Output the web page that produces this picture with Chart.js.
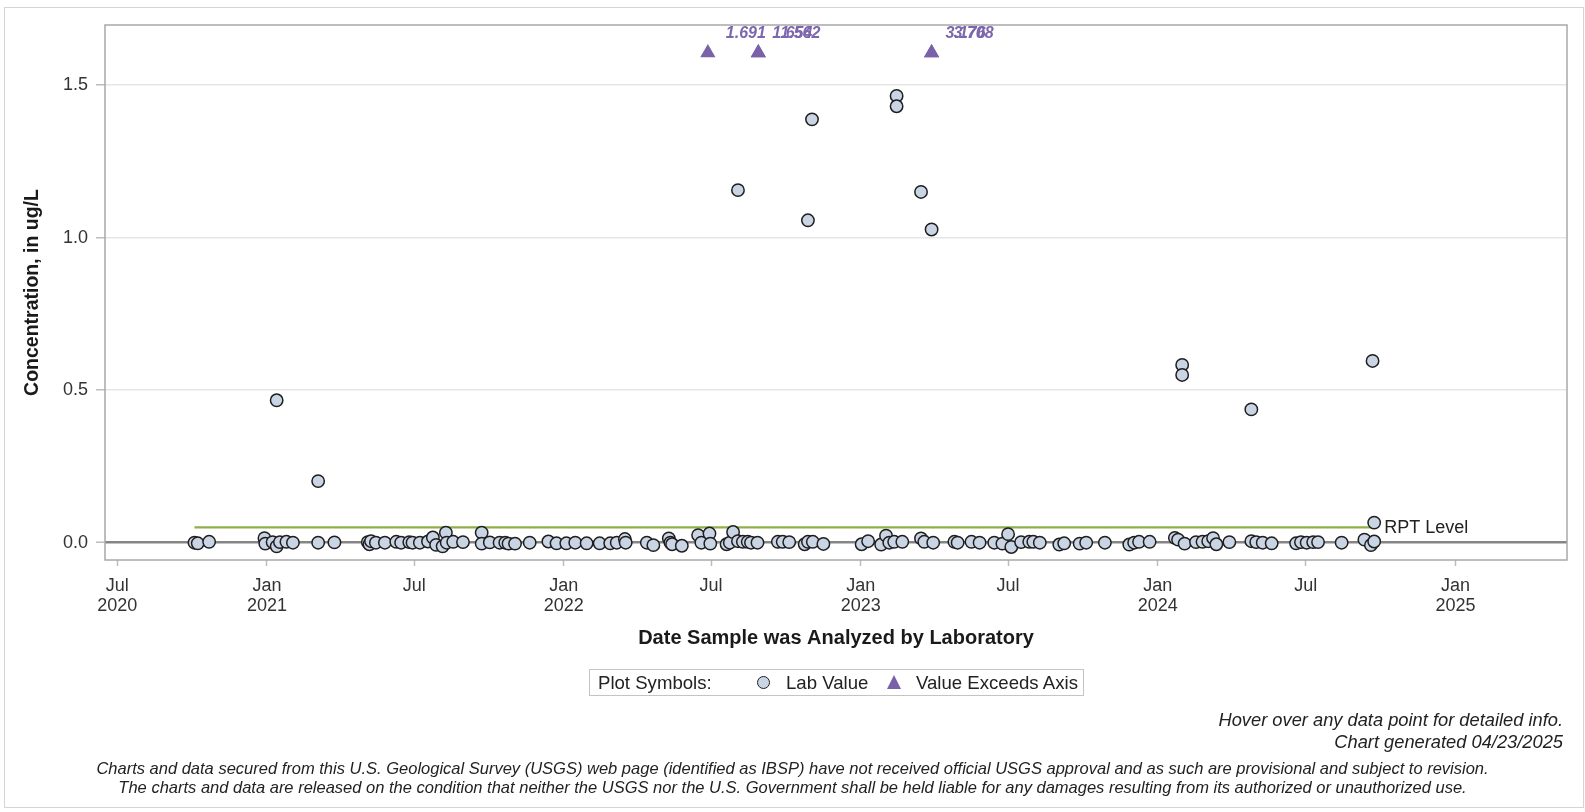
<!DOCTYPE html>
<html>
<head>
<meta charset="utf-8">
<script src="https://cdn.jsdelivr.net/npm/chart.js@4.4.1/dist/chart.umd.min.js"></script>
<style>
html,body{margin:0;padding:0;background:#fff;}
body{width:1585px;height:812px;position:relative;overflow:hidden;font-family:'Liberation Sans',Arial,sans-serif;color:#222;}
#outer{position:absolute;left:4px;top:7px;width:1580px;height:801px;border:1px solid #d4d4d4;box-sizing:border-box;}
#chart{position:absolute;left:0;top:0;}
#legend{position:absolute;left:589px;top:669px;width:495px;height:27px;border:1px solid #c4c4c4;box-sizing:border-box;font-size:18.6px;line-height:25px;}
#legend span{position:absolute;top:0;white-space:nowrap;}
#legend .circ{position:absolute;top:6px;width:11px;height:11px;border-radius:50%;background:#c9d4e4;border:1.4px solid #1e1e1e;}
#legend .tri{position:absolute;top:5px;width:0;height:0;border-left:7.5px solid transparent;border-right:7.5px solid transparent;border-bottom:14px solid #7a62a8;}
.note{position:absolute;right:22px;font-style:italic;font-size:18.3px;white-space:nowrap;}
.foot{position:absolute;left:0;width:1585px;text-align:center;font-style:italic;font-size:16.5px;white-space:nowrap;}
</style>
</head>
<body>
<div id="outer"></div>
<canvas id="chart" width="1585" height="812"></canvas>
<div id="legend">
  <span style="left:8px">Plot Symbols:</span>
  <div class="circ" style="left:167px"></div>
  <span style="left:196px">Lab Value</span>
  <div class="tri" style="left:297px"></div>
  <span style="left:326px">Value Exceeds Axis</span>
</div>
<div class="note" style="top:709px">Hover over any data point for detailed info.</div>
<div class="note" style="top:731px">Chart generated 04/23/2025</div>
<div class="foot" style="top:759px">Charts and data secured from this U.S. Geological Survey (USGS) web page (identified as IBSP) have not received official USGS approval and as such are provisional and subject to revision.</div>
<div class="foot" style="top:778px">The charts and data are released on the condition that neither the USGS nor the U.S. Government shall be held liable for any damages resulting from its authorized or unauthorized use.</div>
<script>
// ---------------- DATA ----------------
const labDates = [
 '2020-10-04','2020-10-08','2020-10-22','2020-12-29','2020-12-30','2021-01-08','2021-01-13','2021-01-13','2021-01-17','2021-01-25',
 '2021-02-02','2021-03-05','2021-03-05','2021-03-25','2021-05-05','2021-05-07','2021-05-09','2021-05-15','2021-05-26','2021-06-09',
 '2021-06-15','2021-06-25','2021-06-29','2021-07-08','2021-07-18','2021-07-24','2021-07-28','2021-08-05','2021-08-09','2021-08-10',
 '2021-08-18','2021-08-30','2021-09-22','2021-09-22','2021-10-02','2021-10-14','2021-10-21','2021-10-25','2021-11-02','2021-11-20',
 '2021-12-13','2021-12-23','2022-01-04','2022-01-15','2022-01-29','2022-02-14','2022-02-27','2022-03-07','2022-03-17','2022-03-18',
 '2022-04-13','2022-04-21','2022-05-10','2022-05-12','2022-05-14','2022-05-26','2022-06-15','2022-06-19','2022-06-29','2022-06-30',
 '2022-07-20','2022-07-24','2022-07-28','2022-08-03','2022-08-03','2022-08-09','2022-08-15','2022-08-19','2022-08-27','2022-09-21',
 '2022-09-27','2022-10-05','2022-10-24','2022-10-28','2022-10-28','2022-11-02','2022-11-03','2022-11-16','2023-01-02','2023-01-10',
 '2023-01-26','2023-02-01','2023-02-05','2023-02-11','2023-02-14','2023-02-14','2023-02-21','2023-03-16','2023-03-16','2023-03-20',
 '2023-03-29','2023-03-31','2023-04-26','2023-04-30','2023-05-17','2023-05-27','2023-06-14','2023-06-24','2023-07-01','2023-07-05',
 '2023-07-17','2023-07-27','2023-08-01','2023-08-09','2023-09-02','2023-09-08','2023-09-27','2023-10-05','2023-10-28','2023-11-27',
 '2023-12-03','2023-12-09','2023-12-22','2024-01-22','2024-01-26','2024-01-31','2024-01-31','2024-02-03','2024-02-17','2024-02-25',
 '2024-03-03','2024-03-09','2024-03-13','2024-03-29','2024-04-25','2024-04-25','2024-05-01','2024-05-09','2024-05-20','2024-06-19',
 '2024-06-25','2024-07-02','2024-07-10','2024-07-16','2024-08-14','2024-09-11','2024-09-19','2024-09-21','2024-09-23','2024-09-23'
];
const labValues = [
 0,-0.002,0.003,0.015,-0.003,0.002,-0.012,0.467,0.002,0.003,
 0,0,0.202,0.001,0.002,-0.005,0.005,0,0,0.003,
 0,0.002,0,0,0.004,0.017,-0.007,-0.012,0.033,0,
 0.003,0.002,0.033,-0.003,0.001,0,0,-0.003,-0.003,0,
 0.004,-0.002,-0.002,0,-0.002,-0.002,-0.002,0,0.012,0,
 0,-0.008,0.014,0,-0.005,-0.01,0.025,0,0.03,-0.003,
 -0.005,0,0.035,0.005,1.156,0.003,0.003,0,0,0.003,
 0.003,0.002,-0.005,0.003,1.057,1.388,0.003,-0.004,-0.005,0.005,
 -0.006,0.023,0,0.003,1.465,1.431,0.003,0.014,1.150,0.003,
 1.027,0,0.003,0,0.003,0,0,-0.003,0.028,-0.014,
 0.002,0.003,0.003,0,-0.006,-0.002,-0.003,0,0,-0.006,
 0,0.003,0.003,0.016,0.01,0.583,0.550,-0.003,0.002,0.003,
 0.005,0.015,-0.005,0.002,0.005,0.437,0.002,0,-0.002,-0.002,
 0.002,0,0.002,0.002,0,0.01,-0.008,0.596,0.066,0.004
];
const exceedDates  = ['2022-06-27','2022-08-28','2022-08-28','2023-03-29','2023-03-29'];
const exceedValues = [1.691, 1.654, 1.562, 3.176, 3.708];
const rptLevel = 0.05;
const xTickDates  = ['2020-07-01','2021-01-01','2021-07-01','2022-01-01','2022-07-01','2023-01-01','2023-07-01','2024-01-01','2024-07-01','2025-01-01'];
const xTickMonths = ['Jul','Jan','Jul','Jan','Jul','Jan','Jul','Jan','Jul','Jan'];
const xTickYears  = ['2020','2021','','2022','','2023','','2024','','2025'];
const yTickValues = [0, 0.5, 1.0, 1.5];
const yTickLabels = ['0.0','0.5','1.0','1.5'];

// ---------------- CONFIG ----------------
const FONT = "'Liberation Sans', Arial, sans-serif";
const X_MIN = '2020-06-16', X_MAX = '2025-05-18';
const Y_MIN = -0.0567, Y_MAX = 1.6974;
const EXCEED_PLOT_LEVEL = 1.606;

const toMs = s => { const p = s.split('-').map(Number); return Date.UTC(p[0], p[1]-1, p[2]); };
const labPoints = labDates.map((d,i) => ({x: toMs(d), y: labValues[i]}));
const exceedPoints = exceedDates.map(d => ({x: toMs(d), y: EXCEED_PLOT_LEVEL}));
const labMs = labDates.map(toMs);
const rptStart = Math.min(...labMs), rptEnd = Math.max(...labMs);
const rptPoints = [{x: rptStart, y: rptLevel}, {x: rptEnd, y: rptLevel}];

const decor = {
  id: 'decor',
  beforeDatasetsDraw(chart) {
    const {ctx, chartArea: a} = chart;
    ctx.save();
    ctx.strokeStyle = '#a8a8a8';
    ctx.lineWidth = 1.5;
    ctx.strokeRect(a.left, a.top, a.right - a.left, a.bottom - a.top);
    ctx.restore();
  },
  afterDatasetsDraw(chart) {
    const ctx = chart.ctx;
    const meta = chart.getDatasetMeta(1);
    const seen = {};
    ctx.save();
    ctx.font = 'italic bold 16px ' + FONT;
    ctx.fillStyle = '#7d66ae';
    ctx.textAlign = 'left';
    ctx.textBaseline = 'middle';
    meta.data.forEach((el, i) => {
      const k = seen[exceedDates[i]] || 0;
      seen[exceedDates[i]] = k + 1;
      const single = k === 0 && !exceedDates.slice(i + 1).includes(exceedDates[i]);
      ctx.fillText(exceedValues[i].toFixed(3), el.x + (single ? 18 : 14) + 8 * k, el.y - 19);
    });
    const xs = chart.scales.x, ys = chart.scales.y;
    ctx.font = '18px ' + FONT;
    ctx.fillStyle = '#222';
    ctx.fillText('RPT Level', xs.getPixelForValue(rptEnd) + 10, ys.getPixelForValue(rptLevel) + 1);
    ctx.restore();
  }
};

new Chart(document.getElementById('chart'), {
  type: 'scatter',
  data: {
    datasets: [
      { label: 'Lab Value', data: labPoints, pointStyle: 'circle', pointRadius: 6.2, pointBorderWidth: 1.5,
        backgroundColor: '#c9d4e4', borderColor: '#1e1e1e', showLine: false },
      { label: 'Value Exceeds Axis', data: exceedPoints, pointStyle: 'triangle', pointRadius: 8.8, pointBorderWidth: 0,
        backgroundColor: '#7a62a8', borderColor: '#7a62a8', showLine: false },
      { type: 'line', label: 'RPT Level', data: rptPoints, borderColor: '#8db04c', borderWidth: 2.2,
        pointRadius: 0, fill: false }
    ]
  },
  options: {
    responsive: false,
    animation: false,
    events: [],
    layout: { padding: { top: 25, right: 18, left: 0, bottom: 0 } },
    plugins: { legend: { display: false }, tooltip: { enabled: false } },
    scales: {
      x: {
        type: 'linear',
        min: toMs(X_MIN), max: toMs(X_MAX),
        afterBuildTicks: s => { s.ticks = xTickDates.map(d => ({value: toMs(d)})); },
        afterFit: s => { s.height = 252; },
        grid: { drawOnChartArea: false, drawTicks: true, tickLength: 6, tickColor: '#bdbdbd', tickWidth: 1.5 },
        border: { display: false },
        ticks: {
          autoSkip: false, maxRotation: 0, minRotation: 0, padding: 10, color: '#333',
          font: { family: FONT, size: 18, lineHeight: 1.1 },
          callback: (v, i) => xTickYears[i] ? [xTickMonths[i], xTickYears[i]] : xTickMonths[i]
        },
        title: { display: true, text: 'Date Sample was Analyzed by Laboratory', color: '#1a1a1a',
          font: { family: FONT, size: 20, weight: 'bold', lineHeight: 1.2 }, padding: { top: 0, bottom: 162 } }
      },
      y: {
        type: 'linear',
        min: Y_MIN, max: Y_MAX,
        afterBuildTicks: s => { s.ticks = yTickValues.map(v => ({value: v})); },
        afterFit: s => { s.width = 105; },
        grid: {
          color: c => (c.tick && c.tick.value === 0) ? '#858585' : '#e6e6e6',
          lineWidth: c => (c.tick && c.tick.value === 0) ? 2.5 : 1.5,
          drawTicks: true, tickLength: 9, tickColor: '#bdbdbd', tickWidth: 1.5
        },
        border: { display: false },
        ticks: {
          padding: 8, color: '#333', font: { family: FONT, size: 18 },
          callback: (v, i) => yTickLabels[i]
        },
        title: { display: true, text: 'Concentration, in ug/L', color: '#1a1a1a',
          font: { family: FONT, size: 19.5, weight: 'bold', lineHeight: 1.2 }, padding: { top: 21, bottom: 0 } }
      }
    }
  },
  plugins: [decor]
});
</script>
</body>
</html>
